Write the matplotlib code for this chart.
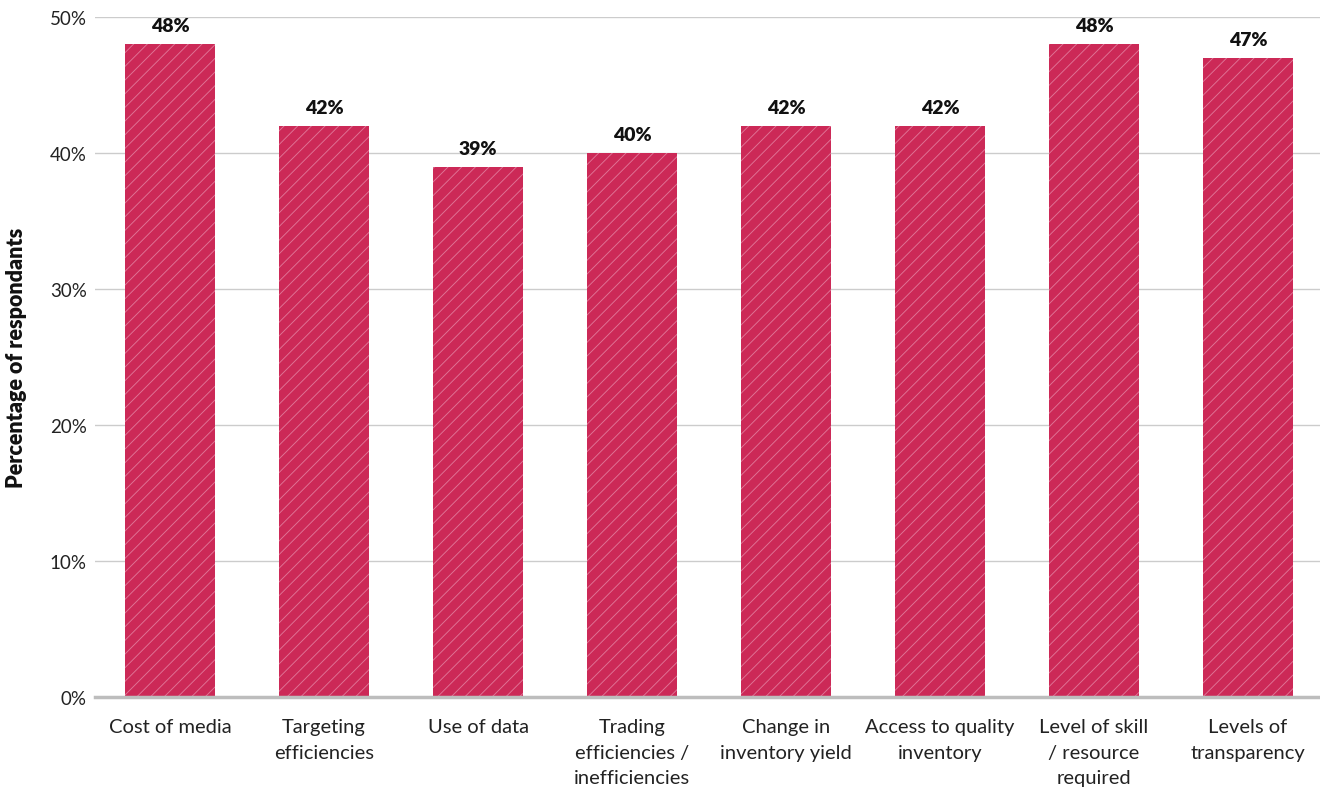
import matplotlib
matplotlib.use("Agg")
import matplotlib.pyplot as plt

categories = [
    "Cost of media",
    "Targeting\nefficiencies",
    "Use of data",
    "Trading\nefficiencies /\ninefficiencies",
    "Change in\ninventory yield",
    "Access to quality\ninventory",
    "Level of skill\n/ resource\nrequired",
    "Levels of\ntransparency",
]
values = [48, 42, 39, 40, 42, 42, 48, 47]
yticks = [0, 10, 20, 30, 40, 50]
ytick_labels = ["0%", "10%", "20%", "30%", "40%", "50%"]

bar_color = "#CC2957"
hatch_color = "#E07596"

# Render at 82 dpi so the hatch cell gives the wanted stripe spacing;
# point sizes are scaled by S to keep their pixel sizes.
DPI = 82
S = 100 / DPI

plt.rcParams["font.family"] = ["Lato", "DejaVu Sans"]
plt.rcParams["hatch.linewidth"] = 0.8
plt.rcParams["hatch.color"] = hatch_color

fig = plt.figure(figsize=(1320 / DPI, 789 / DPI), dpi=DPI)
ax = fig.add_axes([0.072, 0.1153, 0.928, 0.8619])

x = list(range(len(categories)))
ax.bar(x, values, width=0.584, color=bar_color, hatch="//",
       edgecolor=hatch_color, linewidth=0, zorder=3)

for xi, v in zip(x, values):
    ax.annotate(f"{v}%", (xi, v), xytext=(0, 7 * S), textcoords="offset points",
                ha="center", va="bottom", fontsize=14 * S, fontweight="heavy",
                color="#111111", zorder=4)

ax.set_xlim(-0.487, 7.467)
ax.set_ylim(0, 50)
ax.set_yticks(yticks)
ax.set_yticklabels(ytick_labels, fontsize=13.5 * S, color="#222222")
ax.set_xticks(x)
ax.set_xticklabels(categories, fontsize=14.5 * S, color="#222222",
                   linespacing=1.62, va="top")
ax.tick_params(axis="both", length=0)
ax.tick_params(axis="y", pad=6 * S)
ax.tick_params(axis="x", pad=15 * S)

ax.grid(axis="y", color="#cccccc", linewidth=1 * S, zorder=0)
ax.set_axisbelow(True)
for side in ["top", "right", "left"]:
    ax.spines[side].set_visible(False)
ax.spines["bottom"].set_color("#bdbdbd")
ax.spines["bottom"].set_linewidth(2.5 * S)
ax.spines["bottom"].set_zorder(5)

ax.set_ylabel("Percentage of respondants", fontsize=15.5 * S, fontweight="heavy",
              color="#111111", labelpad=16 * S)

fig.savefig("out.png", dpi=DPI)
